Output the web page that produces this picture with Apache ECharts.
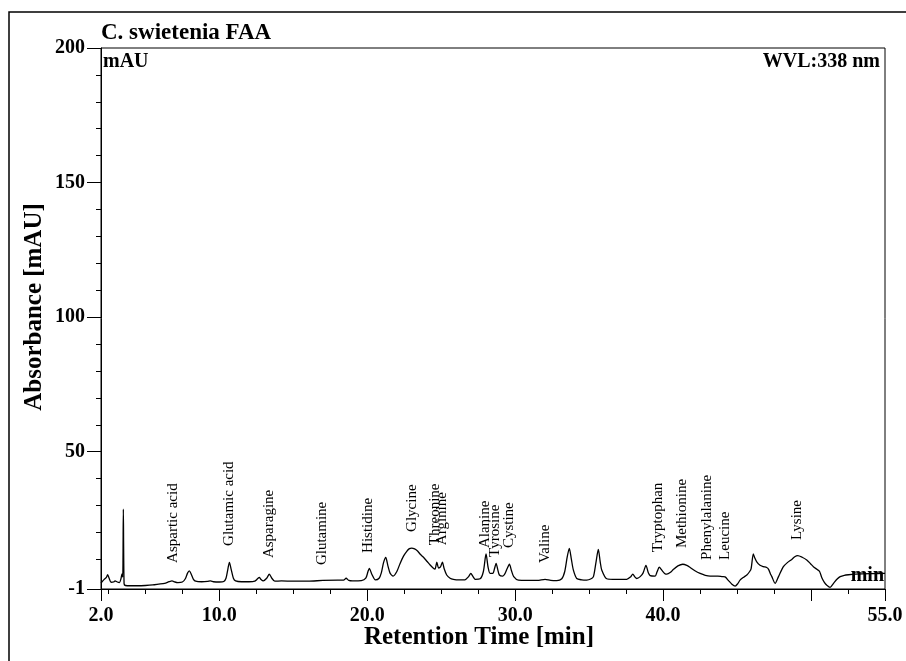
<!DOCTYPE html>
<html>
<head>
<meta charset="utf-8">
<script src="https://cdn.jsdelivr.net/npm/echarts@6/dist/echarts.min.js"></script>
<style>
html,body{margin:0;padding:0;background:#fff;}
#chart{width:906px;height:661px;}
</style>
</head>
<body>
<div id="chart"></div>
<script>
// Retention time (min) and absorbance (mAU)
var retentionTime = [
 2.00,2.20,2.35,2.45,2.55,2.68,2.85,2.95,3.10,3.25,3.35,3.42,3.47,3.51,3.56,3.65,4.00,4.50,5.00,5.50,
 5.90,6.30,6.60,6.80,7.00,7.20,7.50,7.70,7.85,7.97,8.10,8.25,8.40,8.80,9.20,9.40,9.60,10.00,10.30,10.45,
 10.58,10.68,10.80,10.95,11.10,11.50,12.00,12.40,12.60,12.70,12.82,12.97,13.20,13.38,13.55,13.75,14.20,15.00,16.00,17.00,
 18.00,18.40,18.57,18.75,19.00,19.60,19.90,20.05,20.14,20.30,20.55,20.80,20.95,21.10,21.25,21.40,21.55,21.75,22.00,22.22,
 22.45,22.67,22.85,23.00,23.20,23.40,23.60,23.80,24.05,24.25,24.45,24.58,24.70,24.82,24.95,25.08,25.20,25.37,25.60,25.82,
 26.20,26.60,26.85,27.00,27.15,27.30,27.63,27.85,28.03,28.17,28.30,28.49,28.60,28.71,28.83,28.93,29.16,29.30,29.45,29.61,
 29.75,29.90,30.22,30.80,31.50,32.02,32.40,32.81,33.15,33.35,33.52,33.66,33.80,33.93,34.16,34.50,34.84,35.10,35.29,35.45,
 35.62,35.75,35.85,36.19,36.60,37.09,37.54,37.80,37.95,38.10,38.22,38.45,38.65,38.84,39.00,39.12,39.46,39.60,39.74,39.91,
 40.10,40.25,40.50,40.70,41.00,41.33,41.60,41.83,42.15,42.50,42.85,43.18,43.70,44.00,44.19,44.41,44.65,44.87,45.05,45.20,
 45.45,45.66,45.85,45.95,46.10,46.20,46.33,46.55,46.78,47.00,47.12,47.25,47.35,47.57,47.80,48.13,48.40,48.70,48.90,49.10,
 49.40,49.71,49.95,50.16,50.40,50.57,50.73,50.90,51.07,51.29,51.52,51.75,51.97,52.25,52.53,53.00,54.00,55.00
];
var absorbance = [
 1.2,2.5,3.2,4.3,3.0,1.5,1.6,2.0,1.6,1.4,2.8,4.6,3.5,28.7,1.0,0.3,0.2,0.2,0.3,0.5,
 0.8,1.1,1.7,2.0,1.6,1.4,1.6,2.8,4.9,5.7,4.5,2.6,1.9,1.7,1.8,2.0,1.7,1.6,1.8,3.0,
 6.5,8.9,6.3,3.0,2.0,1.7,1.7,1.9,2.9,3.3,2.5,2.0,3.0,4.5,3.0,1.9,2.0,1.9,1.9,2.2,
 2.3,2.3,3.0,2.2,2.0,2.1,3.0,5.5,6.7,4.6,2.4,3.0,5.0,8.8,10.7,7.5,4.8,3.8,5.5,8.5,
 11.2,13.0,14.0,14.2,13.9,13.1,11.8,10.8,9.2,7.9,6.8,6.4,9.0,6.8,7.2,9.0,6.5,4.2,3.0,2.6,
 2.4,2.4,3.6,4.8,3.6,2.6,2.8,5.5,12.0,7.0,4.8,4.8,6.5,8.5,6.0,4.2,3.8,4.6,6.5,8.2,
 5.8,3.6,2.3,2.2,2.2,2.6,2.2,2.1,2.8,5.5,11.0,14.1,10.0,6.1,2.9,2.4,2.3,2.7,3.6,8.5,
 13.7,9.0,6.1,2.8,2.6,2.6,2.6,3.5,4.5,3.4,2.9,3.6,5.0,7.8,5.0,4.0,3.8,5.5,7.1,6.0,
 4.8,4.5,5.2,6.3,7.6,8.2,7.8,7.0,5.8,4.8,4.1,3.8,3.8,3.6,3.5,2.2,0.8,0.1,1.0,2.3,
 3.4,4.2,5.5,6.6,12.0,10.5,9.1,7.8,7.3,7.0,6.4,4.7,3.6,1.1,3.6,7.3,8.8,10.0,11.0,11.4,
 10.8,9.8,8.5,7.3,6.3,5.6,3.2,1.5,0.4,-0.4,1.1,2.6,3.6,4.1,4.3,4.5,4.7,4.8
];
// Peak annotations: name, retention time, label start height (mAU)
var peakNames = ['Aspartic acid','Glutamic acid','Asparagine','Glutamine','Histidine','Glycine','Threonine','Arginine','Alanine','Tyrosine','Cystine','Valine','Tryptophan','Methionine','Phenylalanine','Leucine','Lysine'];
var peakTimes = [6.87,10.65,13.36,16.94,20.05,23.03,24.58,25.06,27.96,28.64,29.58,32.02,39.66,41.28,42.97,44.19,49.06];
var peakLabelY = [8.7,15.0,10.5,7.9,12.4,20.2,15.3,15.3,14.2,10.9,14.2,8.7,12.7,14.2,9.8,9.8,17.2];
// Axis ticks / labels
var xLabelValues = [2,10,20,30,40,55];
var xMajorTicks = [2,10,20,30,40,50,55];
var xMinorTicks = [2.5,5,7.5,12.5,15,17.5,22.5,25,27.5,32.5,35,37.5,42.5,45,47.5,52.5];
var yLabelValues = [-1,50,100,150,200];
var yMinorTicks = [10,20,30,40,60,70,80,90,110,120,130,140,160,170,180,190];

var FONT = "'Liberation Serif','Times New Roman',serif";

var lineData = retentionTime.map(function(t,i){return [t, absorbance[i]];});
var peakData = peakNames.map(function(n,i){return [peakTimes[i], peakLabelY[i], n];});

var chart = echarts.init(document.getElementById('chart'), null, {renderer:'canvas'});
var option = {
  animation:false,
  backgroundColor:'#fff',
  grid:{left:101, top:48, right:21, bottom:72, show:true, borderColor:'#000', borderWidth:1, containLabel:false},
  xAxis:[{
    type:'value', min:2, max:55, position:'bottom',
    axisLine:{show:true, onZero:false, lineStyle:{color:'#000', width:1}},
    axisTick:{show:true, inside:false, length:12, customValues:xMajorTicks, lineStyle:{color:'#000'}},
    axisLabel:{show:true, customValues:xLabelValues, margin:17, color:'#000', fontFamily:FONT, fontWeight:'bold', fontSize:20,
      formatter:function(v){return v.toFixed(1);}},
    splitLine:{show:false}
  },{
    type:'value', min:2, max:55, position:'bottom',
    axisLine:{show:false, onZero:false},
    axisTick:{show:true, inside:false, length:5, customValues:xMinorTicks, lineStyle:{color:'#000'}},
    axisLabel:{show:false},
    splitLine:{show:false}
  }],
  yAxis:[{
    type:'value', min:-1, max:200, position:'left',
    axisLine:{show:true, onZero:false, lineStyle:{color:'#000', width:1}},
    axisTick:{show:true, inside:false, length:14, customValues:yLabelValues, lineStyle:{color:'#000'}},
    axisLabel:{show:true, customValues:yLabelValues, margin:16, color:'#000', fontFamily:FONT, fontWeight:'bold', fontSize:20,
      formatter:function(v){return String(Math.round(v));}},
    splitLine:{show:false}
  },{
    type:'value', min:-1, max:200, position:'left',
    axisLine:{show:false, onZero:false},
    axisTick:{show:true, inside:false, length:5, customValues:yMinorTicks, lineStyle:{color:'#000'}},
    axisLabel:{show:false},
    splitLine:{show:false}
  }],
  series:[{
    type:'line', xAxisIndex:0, yAxisIndex:0, data:lineData, showSymbol:false, smooth:0.25,
    lineStyle:{color:'#000', width:1.3}, silent:true, z:3
  },{
    type:'custom', xAxisIndex:0, yAxisIndex:0, data:peakData, silent:true, z:4,
    renderItem:function(params, api){
      var p = api.coord([api.value(0), api.value(1)]);
      return {type:'text', x:p[0], y:p[1], rotation:Math.PI/2,
        style:{text:peakNames[params.dataIndex], x:0, y:0, textAlign:'left', textVerticalAlign:'middle',
          font:'15px ' + FONT, fill:'#000'}};
    }
  }],
  graphic:[
    {type:'polyline', silent:true, shape:{points:[[9,661],[9,12],[906,12]]}, style:{stroke:'#000', lineWidth:1.5, fill:null}},
    {type:'text', left:101, top:22, style:{text:'C. swietenia FAA', font:'bold 23px ' + FONT, fill:'#000'}},
    {type:'text', left:103, top:52, style:{text:'mAU', font:'bold 20px ' + FONT, fill:'#000'}},
    {type:'text', right:26, top:52, style:{text:'WVL:338 nm', font:'bold 20px ' + FONT, fill:'#000'}},
    {type:'text', right:22, top:566, z:10, style:{text:'min', font:'bold 20px ' + FONT, fill:'#000'}},
    {type:'text', x:479, y:638, silent:true, style:{text:'Retention Time [min]', textAlign:'center', textVerticalAlign:'middle', font:'bold 25px ' + FONT, fill:'#000'}},
    {type:'text', x:35, y:307, rotation:Math.PI/2, silent:true, style:{text:'Absorbance [mAU]', textAlign:'center', textVerticalAlign:'middle', font:'bold 25px ' + FONT, fill:'#000'}}
  ]
};
chart.setOption(option);
</script>
</body>
</html>
